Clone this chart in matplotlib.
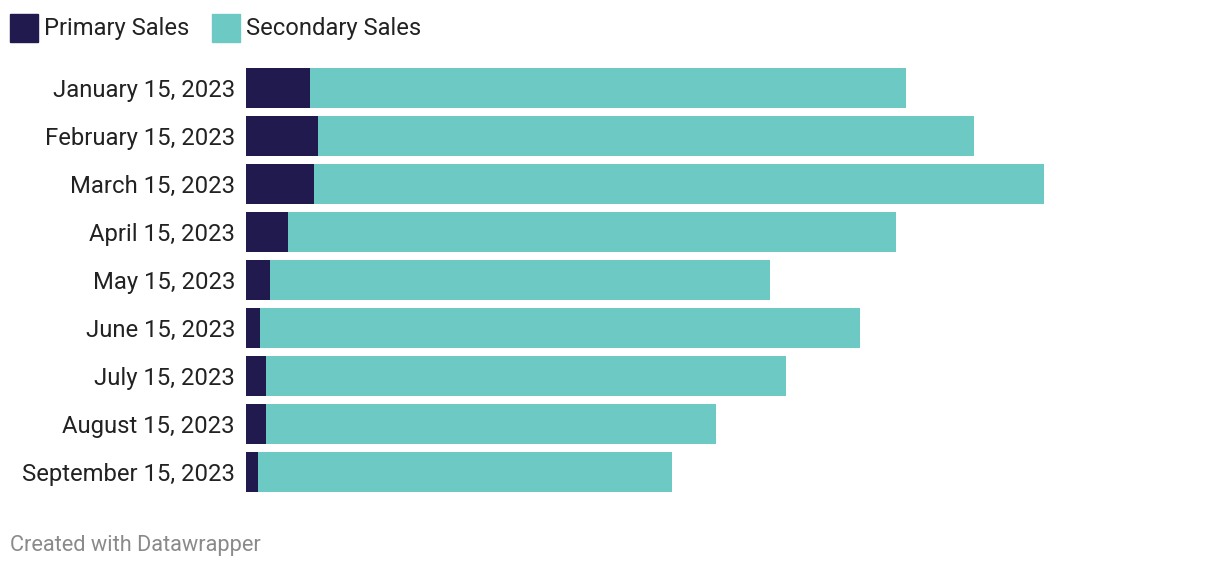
import numpy as np
import matplotlib.pyplot as plt
import matplotlib as mpl
from matplotlib.patches import Rectangle

mpl.rc('font', family=['Roboto', 'DejaVu Sans'])

dates = ['January 15, 2023', 'February 15, 2023', 'March 15, 2023',
         'April 15, 2023', 'May 15, 2023', 'June 15, 2023',
         'July 15, 2023', 'August 15, 2023', 'September 15, 2023']
primary = [64, 72, 68, 42, 24, 14, 20, 20, 12]
secondary = [596, 656, 730, 608, 500, 600, 520, 450, 414]

c_primary = '#211a4f'
c_secondary = '#6cc9c3'

W, H = 1220, 570
fig = plt.figure(figsize=(W / 100, H / 100), dpi=100)
# axes in pixel coords: x 246..1210, y 64..496
ax = fig.add_axes([246 / W, 1 - 496 / H, (1210 - 246) / W, (496 - 64) / H])

y = np.arange(len(dates))
ax.barh(y, primary, height=40 / 48, color=c_primary, linewidth=0)
ax.barh(y, secondary, left=primary, height=40 / 48, color=c_secondary, linewidth=0)

ax.set_xlim(0, 1210 - 246)
ax.set_ylim(len(dates) - 0.5, -0.5)
ax.set_yticks(y)
ax.set_yticklabels(dates, fontsize=17.2, color='#222222')
ax.tick_params(axis='y', length=0, pad=8)
ax.set_xticks([])
for s in ax.spines.values():
    s.set_visible(False)

# legend
def px(x, yy):
    return x / W, 1 - yy / H

for x0, col, label in [(10, c_primary, 'Primary Sales'),
                       (212, c_secondary, 'Secondary Sales')]:
    fig.patches.append(Rectangle(px(x0, 42), 28 / W, 28 / H, color=col,
                                 transform=fig.transFigure, figure=fig))
    fig.text(*px(x0 + 34, 28), label, fontsize=17.1, color='#222222', va='center')

fig.text(*px(10, 546), 'Created with Datawrapper', fontsize=15.7,
         color='#8a8a8a', va='center')

plt.savefig('out.png', dpi=100)
